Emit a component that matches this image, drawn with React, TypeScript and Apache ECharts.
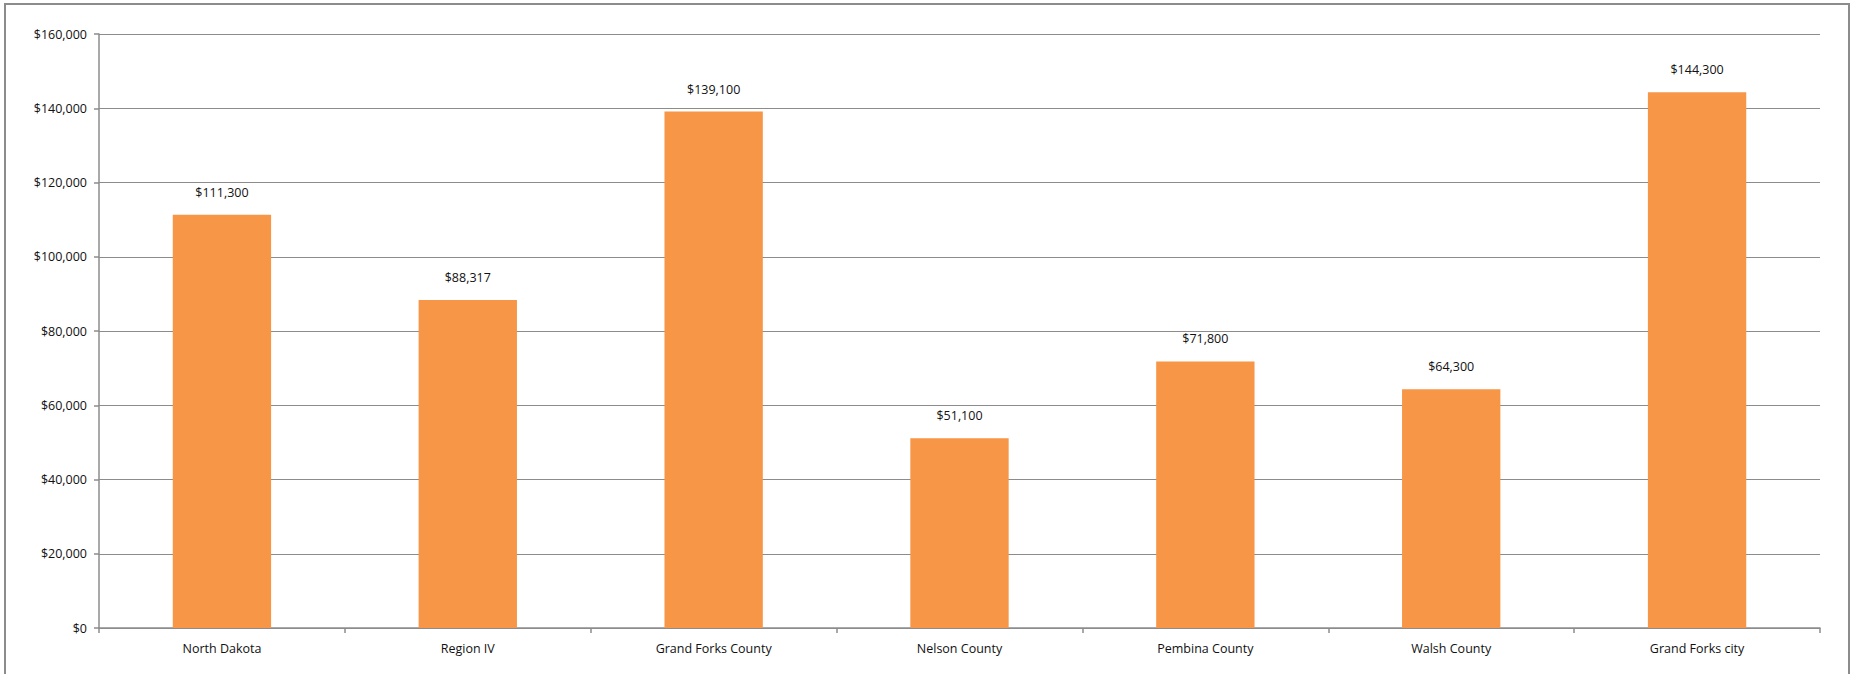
import React, { useEffect, useRef } from "react";
import * as echarts from "echarts";

const categories = [
  "North Dakota",
  "Region IV",
  "Grand Forks County",
  "Nelson County",
  "Pembina County",
  "Walsh County",
  "Grand Forks city",
];
const values = [111300, 88317, 139100, 51100, 71800, 64300, 144300];
const yMin = 0;
const yMax = 160000;
const yInterval = 20000;

const fmt = (v: number) => "$" + Math.round(v).toLocaleString("en-US");

export default function App() {
  const ref = useRef<HTMLDivElement>(null);
  useEffect(() => {
    if (!ref.current) return;
    const chart = echarts.init(ref.current, undefined, { renderer: "svg" });
    const font = "Open Sans, Calibri, sans-serif";
    chart.setOption({
      animation: false,
      backgroundColor: "#ffffff",
      graphic: [
        {
          type: "rect",
          shape: { x: 5, y: 4, width: 1844, height: 700 },
          style: { fill: "none", stroke: "#8c8c8c", lineWidth: 2 },
          silent: true,
        },
      ],
      grid: { left: 99, right: 33, top: 34, bottom: 46, containLabel: false },
      xAxis: {
        type: "category",
        data: categories,
        axisLine: { show: true, lineStyle: { color: "#8c8c8c", width: 1.5 } },
        axisTick: { show: true, length: 5, alignWithLabel: false, lineStyle: { color: "#8c8c8c", width: 1.5 } },
        axisLabel: { color: "#111111", fontFamily: font, fontSize: 12.5, margin: 14 },
      },
      yAxis: {
        type: "value",
        min: yMin,
        max: yMax,
        interval: yInterval,
        axisLine: { show: true, lineStyle: { color: "#8c8c8c", width: 1.5 } },
        axisTick: { show: true, length: 5, lineStyle: { color: "#8c8c8c", width: 1.5 } },
        splitLine: { show: true, lineStyle: { color: "#8c8c8c", width: 1.2 } },
        axisLabel: { color: "#111111", fontFamily: font, fontSize: 12.5, margin: 12, formatter: (v: number) => fmt(v) },
      },
      series: [
        {
          type: "bar",
          data: values,
          barWidth: "40%",
          itemStyle: { color: "#F79646" },
          label: {
            show: true,
            position: "top",
            distance: 16,
            color: "#111111",
            fontFamily: font,
            fontSize: 12.5,
            formatter: (p: any) => fmt(p.value),
          },
        },
      ],
    });
    return () => chart.dispose();
  }, []);
  return (
    <div
      ref={ref}
      style={{ position: "fixed", left: 0, top: 0, width: 1853, height: 674, background: "#fff" }}
    />
  );
}
